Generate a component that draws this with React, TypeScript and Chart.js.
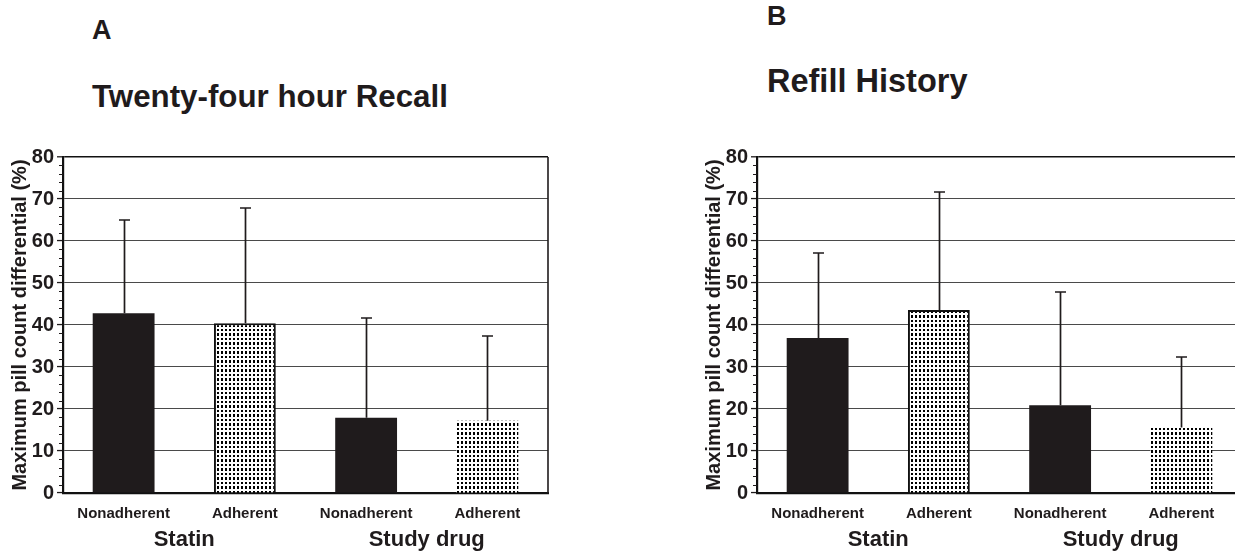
import React, { useEffect, useRef } from 'react';
import { Chart, registerables } from 'chart.js';

Chart.register(...registerables);

// ---------- data ----------
const categories = ['Nonadherent', 'Adherent', 'Nonadherent', 'Adherent'];
const groups = ['Statin', 'Study drug'];
const recallMeans = [42.8, 40.4, 17.9, 17.2];
const recallSD = [22.2, 27.5, 23.7, 20.3];
const refillMeans = [36.9, 43.6, 20.9, 15.6];
const refillSD = [20.3, 28.1, 27.0, 16.9];
const patterned = [false, true, false, true];
const outlined = [false, true, false, false];
const yMin = 0;
const yMax = 80;
const yMajorStep = 10;
const yMinorStep = 2;
const yAxisTitle = 'Maximum pill count differential (%)';

const FONT = "'Liberation Sans', Arial, Helvetica, sans-serif";
const INK = '#1f1b1c';

function makePattern(): CanvasPattern | string {
  const c = document.createElement('canvas');
  c.width = 4;
  c.height = 9;
  const g = c.getContext('2d');
  if (!g) return '#888';
  g.fillStyle = '#ffffff';
  g.fillRect(0, 0, 4, 9);
  g.fillStyle = '#000000';
  g.fillRect(1, 1, 2, 2);
  g.fillRect(1, 5, 2, 3);
  const p = g.createPattern(c, 'repeat');
  return p || '#888';
}

const decorPlugin = {
  id: 'decor',
  afterDatasetsDraw(chart: any, _args: any, opts: any) {
    const { ctx, chartArea, scales } = chart;
    const y = scales.y;
    const meta = chart.getDatasetMeta(0);
    const means: number[] = chart.data.datasets[0].data;
    const sd: number[] = opts.sd || [];
    ctx.save();
    ctx.strokeStyle = INK;
    ctx.lineWidth = 1.7;
    ctx.beginPath();
    means.forEach((m, i) => {
      const el = meta.data[i];
      const px = Math.round(el.x) + 0.5;
      const y0 = y.getPixelForValue(m);
      const y1 = Math.round(y.getPixelForValue(m + sd[i]));
      ctx.moveTo(px, y0);
      ctx.lineTo(px, y1);
      ctx.moveTo(px - 5.5, y1);
      ctx.lineTo(px + 5.5, y1);
    });
    ctx.stroke();
    // minor ticks
    ctx.lineWidth = 1.2;
    ctx.beginPath();
    for (let v = yMin; v <= yMax; v += yMinorStep) {
      if (v % yMajorStep === 0) continue;
      const py = Math.round(y.getPixelForValue(v)) + 0.5;
      ctx.moveTo(chartArea.left - 4, py);
      ctx.lineTo(chartArea.left, py);
    }
    ctx.stroke();
    // right frame
    ctx.lineWidth = 1.6;
    ctx.beginPath();
    ctx.moveTo(chartArea.right, chartArea.top);
    ctx.lineTo(chartArea.right, chartArea.bottom);
    ctx.stroke();
    ctx.restore();
  },
};

function buildConfig(means: number[], sd: number[]): any {
  const pattern = makePattern();
  return {
    type: 'bar',
    data: {
      labels: categories,
      datasets: [
        {
          data: means,
          xAxisID: 'x',
          yAxisID: 'y',
          backgroundColor: patterned.map((p) => (p ? pattern : INK)),
          borderColor: '#111111',
          borderWidth: outlined.map((o) => (o ? 2 : 0)),
          borderSkipped: 'bottom',
          barPercentage: 0.51,
          categoryPercentage: 1,
        },
      ],
    },
    options: {
      responsive: false,
      animation: false,
      devicePixelRatio: 1,
      layout: { padding: { top: 27, right: 12, left: 0, bottom: 0 } },
      plugins: {
        legend: { display: false },
        tooltip: { enabled: false },
        decor: { sd },
      },
      scales: {
        x: {
          type: 'category',
          position: 'bottom',
          weight: 0,
          offset: true,
          grid: { display: false, drawTicks: false },
          border: { display: true, color: '#111111', width: 2.2 },
          ticks: {
            font: { family: FONT, size: 15, weight: 'bold' },
            color: INK,
            padding: 12,
            maxRotation: 0,
            autoSkip: false,
          },
          afterFit: (s: any) => {
            s.height = 32;
          },
        },
        x2: {
          type: 'category',
          position: 'bottom',
          weight: 1,
          labels: groups,
          offset: true,
          grid: { display: false, drawTicks: false },
          border: { display: false },
          ticks: {
            font: { family: FONT, size: 22, weight: 'bold' },
            color: INK,
            padding: 2,
            maxRotation: 0,
            autoSkip: false,
          },
          afterFit: (s: any) => {
            s.height = 30;
          },
        },
        y: {
          type: 'linear',
          min: yMin,
          max: yMax,
          grid: {
            color: (c: any) => (c.tick && c.tick.value === yMax ? '#111111' : c.tick && c.tick.value === yMin ? 'rgba(0,0,0,0)' : '#4a4a4a'),
            lineWidth: (c: any) => (c.tick && c.tick.value === yMax ? 1.6 : 1.1),
            drawTicks: true,
            tickLength: 6,
            tickColor: INK,
            tickWidth: 1.3,
          },
          border: { display: true, color: '#111111', width: 2.2 },
          ticks: {
            stepSize: yMajorStep,
            font: { family: FONT, size: 20, weight: 'bold' },
            color: INK,
            padding: 3,
          },
          title: {
            display: true,
            text: yAxisTitle,
            font: { family: FONT, size: 20, weight: 'bold' },
            color: INK,
            padding: { top: 8, bottom: 0 },
          },
          afterFit: (s: any) => {
            s.width = 63;
          },
        },
      },
    },
    plugins: [decorPlugin],
  };
}

const textBase: React.CSSProperties = {
  position: 'absolute',
  fontFamily: FONT,
  fontWeight: 'bold',
  lineHeight: 1,
  whiteSpace: 'nowrap',
  color: INK,
  margin: 0,
};

export default function App() {
  const ref1 = useRef<HTMLCanvasElement | null>(null);
  const ref2 = useRef<HTMLCanvasElement | null>(null);

  useEffect(() => {
    const charts: Chart[] = [];
    if (ref1.current) charts.push(new Chart(ref1.current, buildConfig(recallMeans, recallSD)));
    if (ref2.current) charts.push(new Chart(ref2.current, buildConfig(refillMeans, refillSD)));
    return () => {
      charts.forEach((c) => c.destroy());
    };
  }, []);

  return (
    <div
      style={{
        position: 'fixed',
        left: 0,
        top: 0,
        width: 1235,
        height: 555,
        overflow: 'hidden',
        background: '#ffffff',
      }}
    >
      <div style={{ ...textBase, left: 92, top: 17, fontSize: 27 }}>A</div>
      <div style={{ ...textBase, left: 92, top: 81, fontSize: 31.3 }}>Twenty-four hour Recall</div>
      <div style={{ ...textBase, left: 767, top: 3, fontSize: 27 }}>B</div>
      <div style={{ ...textBase, left: 767, top: 65, fontSize: 32.5 }}>Refill History</div>
      <canvas
        ref={ref1}
        width={560}
        height={425}
        style={{ position: 'absolute', left: 0, top: 130, width: 560, height: 425 }}
      />
      <canvas
        ref={ref2}
        width={560}
        height={425}
        style={{ position: 'absolute', left: 694, top: 130, width: 560, height: 425 }}
      />
    </div>
  );
}
